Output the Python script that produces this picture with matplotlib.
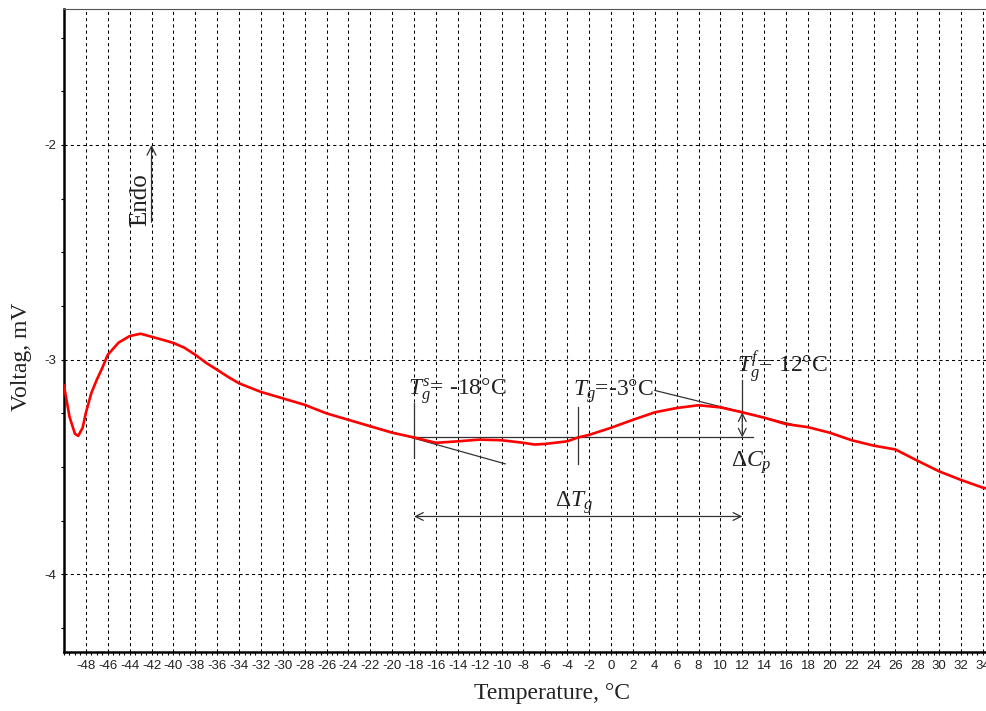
import numpy as np
import matplotlib
matplotlib.use('Agg')
import matplotlib.pyplot as plt
from matplotlib.ticker import MultipleLocator

plt.rcParams['axes.unicode_minus'] = False
plt.rcParams['mathtext.fontset'] = 'custom'
plt.rcParams['mathtext.rm'] = 'Liberation Serif'
plt.rcParams['mathtext.it'] = 'Liberation Serif:italic'

# DSC curve (temperature in degC, voltage in mV)
temperature = [-50, -49.5, -49, -48.7, -48.3, -48, -47.5, -47, -46.5, -46, -45,
               -44, -43, -42, -41, -40, -39, -38, -37, -36, -35, -34, -32, -30,
               -28, -26, -24, -22, -20, -18, -16, -14, -12, -10, -8, -7, -6,
               -4, -3, -2, 0, 2, 4, 6, 8, 10, 12, 14, 16, 18, 20, 22, 24, 26,
               28, 30, 32, 34, 34.4]
voltage = [-3.12, -3.265, -3.345, -3.355, -3.317, -3.247, -3.155, -3.093, -3.038,
           -2.977, -2.92, -2.89, -2.879, -2.893, -2.907, -2.922, -2.944, -2.977,
           -3.015, -3.047, -3.08, -3.11, -3.15, -3.18, -3.21, -3.25, -3.28, -3.31,
           -3.34, -3.362, -3.387, -3.38, -3.372, -3.375, -3.387, -3.395, -3.392,
           -3.38, -3.362, -3.35, -3.317, -3.28, -3.245, -3.225, -3.212, -3.222,
           -3.245, -3.27, -3.30, -3.314, -3.34, -3.375, -3.40, -3.418, -3.47,
           -3.52, -3.56, -3.596, -3.60]

x_ticks = list(range(-48, 35, 2))
y_ticks = [-2, -3, -4]

# glass transition construction
tg_start, tg_mid, tg_end = -18, -3, 12
base_level = -3.362
tangent_low = ([-24, -9.67], [-3.28, -3.485])
tangent_high = ([4, 17.3], [-3.143, -3.31])
cp_top = -3.245
dtg_level = -3.73

fig = plt.figure(figsize=(9.87, 7.11), dpi=100)
ax = fig.add_axes([64 / 987, 59 / 711, 923 / 987, 643 / 711])

ax.set_xlim(-50, 34.37)
ax.set_ylim(-4.361, -1.367)

ax.set_xticks(x_ticks)
ax.set_xticklabels([str(t) for t in x_ticks])
ax.xaxis.set_minor_locator(MultipleLocator(0.5))
ax.set_yticks(y_ticks)
ax.set_yticklabels([str(t) for t in y_ticks])
ax.yaxis.set_minor_locator(MultipleLocator(0.25))

for lab in ax.get_xticklabels() + ax.get_yticklabels():
    lab.set_family('Liberation Sans')
    lab.set_fontsize(9.5)
    lab.set_color('#222222')
ax.tick_params(which='both', direction='out', length=2.5, width=0.8, color='black')
ax.tick_params(axis='x', pad=3)
ax.tick_params(axis='y', pad=3)

ax.grid(True, which='major', color='black', linestyle=(0, (3, 3)), linewidth=0.75)

for s in ['left', 'bottom']:
    ax.spines[s].set_linewidth(1.8)
ax.spines['top'].set_linewidth(0.8)
ax.spines['top'].set_color('#555555')
ax.spines['right'].set_visible(False)

ax.plot(temperature, voltage, color='red', linewidth=1.9, zorder=5)

line_kw = dict(color='#333333', linewidth=0.9, zorder=4)
ax.plot(tangent_low[0], tangent_low[1], **line_kw)
ax.plot(tangent_high[0], tangent_high[1], **line_kw)
ax.plot([tg_start, 13], [base_level, base_level], **line_kw)
ax.plot([tg_start, tg_start], [-3.2, -3.46], **line_kw)
ax.plot([tg_mid, tg_mid], [-3.218, -3.485], **line_kw)
ax.plot([tg_end, tg_end], [-3.093, cp_top], **line_kw)

arrow_kw = dict(arrowstyle='<->', color='#333333', lw=0.9, shrinkA=0, shrinkB=0,
                mutation_scale=14)
ax.annotate('', xy=(tg_end, base_level), xytext=(tg_end, cp_top), arrowprops=arrow_kw)
ax.annotate('', xy=(tg_end, dtg_level), xytext=(tg_start, dtg_level), arrowprops=arrow_kw)
ax.annotate('', xy=(-42, -2.0), xytext=(-42, -2.36),
            arrowprops=dict(arrowstyle='->', color='#333333', lw=0.9, shrinkA=0,
                            shrinkB=0, mutation_scale=16))

txt = dict(family='Liberation Serif', fontsize=17, color='#222222', zorder=6)
ax.text(-18.54, -3.163, r'$T_g^s$= -18°C', ha='left', va='baseline', **txt)
ax.text(-3.45, -3.168, r'$T_g$=-3°C', ha='left', va='baseline', **txt)
ax.text(11.5, -3.06, r'$T_g^f$= 12°C', ha='left', va='baseline', **txt)
ax.text(11.0, -3.498, r'$\Delta C_p$', ha='left', va='baseline', **txt)
ax.text(-5.1, -3.685, r'$\Delta T_g$', ha='left', va='baseline', **txt)
ax.text(-43.0, -2.256, 'Endo', rotation=90, ha='center', va='center',
        **dict(txt, fontsize=18))

fig.text(552 / 987, 1 - 694 / 711, 'Temperature, °C', ha='center', va='center',
         family='Liberation Serif', fontsize=17, color='#222222')
fig.text(22 / 987, 1 - 357 / 711, 'Voltag, mV', ha='center', va='center', rotation=90,
         family='Liberation Serif', fontsize=17, color='#222222')

fig.savefig('out.png', dpi=100)
